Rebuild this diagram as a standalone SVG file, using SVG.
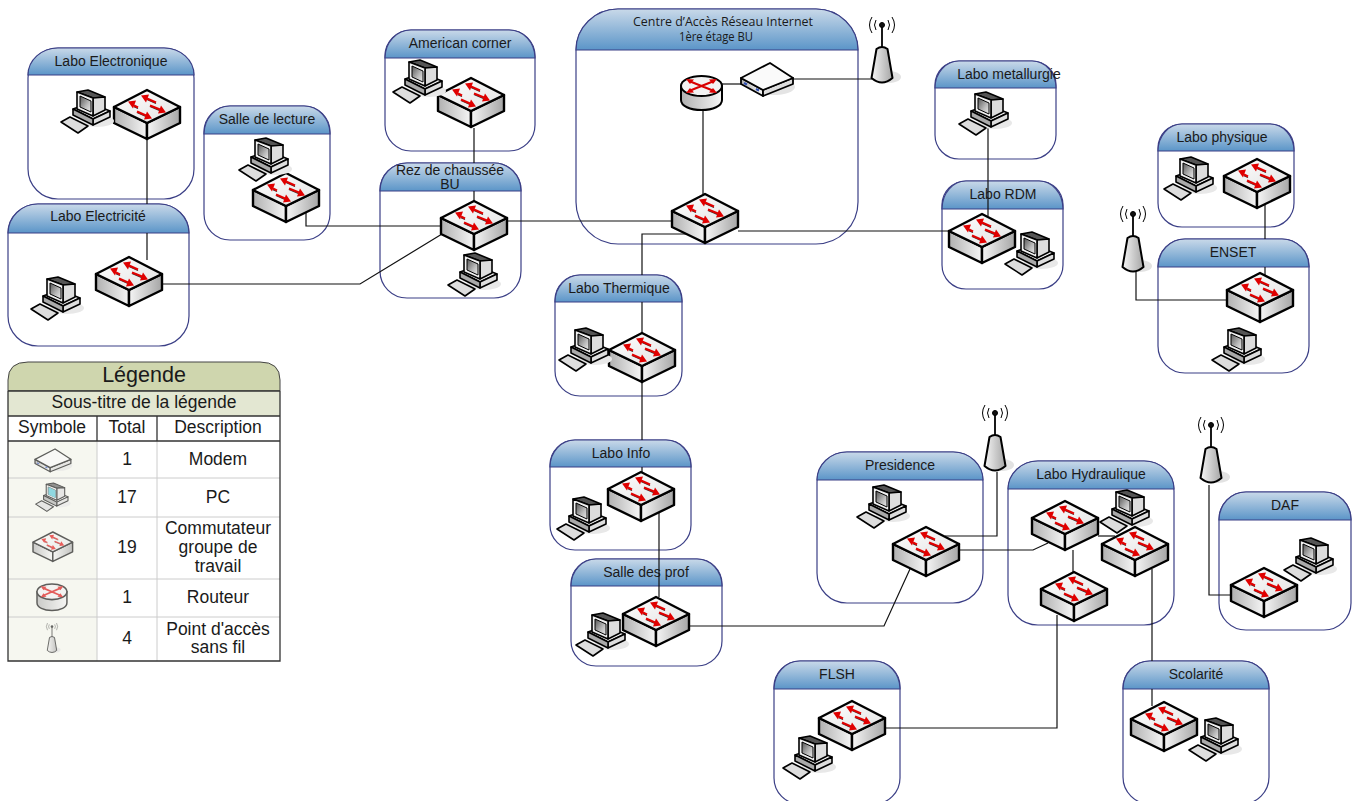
<svg xmlns="http://www.w3.org/2000/svg" width="1357" height="801" viewBox="0 0 1357 801">
<style>
text{font-family:"Liberation Sans",Arial,sans-serif;fill:#1a1a1a;text-anchor:middle}
.box{fill:#fff;stroke:#3b3f86;stroke-width:1.2}
.hd{fill:url(#hdg);stroke:#3b3f86;stroke-width:1.2}
.lbl{font-size:14px}
.cf{font-family:"Open Sans",sans-serif;font-size:12px}
.conn{fill:none;stroke:#111;stroke-width:1.2}
.lt{font-size:17.500px}
.lg{fill:none;stroke:#ccc;stroke-width:1}
.ld{fill:none;stroke:#333;stroke-width:1.300}
</style>
<defs>
<linearGradient id="hdg" x1="0" y1="0" x2="0" y2="1"><stop offset="0" stop-color="#c9d9e9"/><stop offset="1" stop-color="#5b95c8"/></linearGradient>
<linearGradient id="sl" x1="0" y1="0" x2="1" y2="0"><stop offset="0" stop-color="#b0b0b0"/><stop offset="1" stop-color="#f6f6f6"/></linearGradient>
<linearGradient id="sr" x1="0" y1="0" x2="1" y2="0"><stop offset="0" stop-color="#f6f6f6"/><stop offset="1" stop-color="#a5a5a5"/></linearGradient>
<linearGradient id="st" x1="0" y1="0" x2="1" y2="1"><stop offset="0" stop-color="#fff"/><stop offset="1" stop-color="#e2e2e2"/></linearGradient>
<linearGradient id="scr" x1="0" y1="0" x2="1" y2="1"><stop offset="0" stop-color="#555"/><stop offset=".6" stop-color="#bbb"/><stop offset="1" stop-color="#eee"/></linearGradient>
<g id="switch" stroke="#000" stroke-width="2.400" stroke-linejoin="round">
<path d="M0 17V33L33 49V33Z" fill="url(#sl)"/>
<path d="M66 17V33L33 49V33Z" fill="url(#sr)"/>
<path d="M33 0L66 17L33 33L0 17Z" fill="url(#st)"/>
<path d="M42 13.500L33 9.500M24 18.500L20 16.600M36 16.500L46 20.600M23 22.500L32 26.500" stroke="#333" stroke-width="1.300" fill="none"/>
<path d="M42 12.500L33 8.500M24 17.500L20 15.600M36 15.500L46 19.600M23 21.500L32 25.500" stroke="#e00000" stroke-width="2.200" fill="none"/>
<g fill="#e00000" stroke="none">
<path d="M27 5.500L35 4.500L32 12.500Z"/>
<path d="M14 11.500L22 10.500L19 18.500Z"/>
<path d="M52 22.500L44 23.500L47 15.500Z"/>
<path d="M38 28.500L30 29.500L33 21.500Z"/>
</g></g>
<g id="pc" stroke="#000" stroke-width="1.600" stroke-linejoin="round">
<ellipse cx="37" cy="31" rx="17" ry="6" fill="#e8e8e8" stroke="none"/>
<path d="M13 19L30 13L50 21L33 29Z" fill="#eee"/>
<path d="M33 29V35L50 27V21Z" fill="#ddd"/>
<path d="M13 19V25L33 35V29Z" fill="#aaa"/>
<path d="M17 2L28 0L45 7L33 8Z" fill="#555"/>
<path d="M33 8L45 7V20L33 26Z" fill="#ddd"/>
<path d="M17 2L33 8V26L17 19Z" fill="#f0f0f0"/>
<path d="M20 6L31 11V22L20 17Z" fill="url(#scr)" stroke-width="1"/>
<path d="M1 32L10 27L28 36L18 43Z" fill="#ddd"/>
</g>
<g id="antenna" stroke="#000" stroke-linejoin="round">
<ellipse cx="7" cy="60" rx="12" ry="6" fill="#e2e2e2" stroke="none"/>
<path d="M-5.500 32Q0 28 5.500 32L10.500 61Q0 70 -10.500 61Z" fill="url(#sr)" stroke-width="2"/>
<path d="M0 8V30" stroke-width="1.800" fill="none"/>
<circle cx="0" cy="8" r="2.500" fill="#111"/>
<path d="M-6 3Q-9 8 -6 13M6 3Q9 8 6 13M-10 0Q-15 8 -10 16M10 0Q15 8 10 16" fill="none" stroke-width="1"/>
</g>
<g id="router" stroke="#000" stroke-width="2">
<path d="M0 10V24C0 30 9 34 20.500 34S41 30 41 24V10Z" fill="url(#sl)"/>
<ellipse cx="20.500" cy="10" rx="20.500" ry="10" fill="#f2f2f2"/>
<path d="M8 5L33 15M33 5L8 15" fill="none" stroke="#d90000" stroke-width="2.200"/>
<g fill="#d90000" stroke="none">
<path d="M5 3L13 3.500L9 8Z"/><path d="M36 17L28 16.500L32 12Z"/>
<path d="M36 3L28 3.500L32 8Z"/><path d="M5 17L13 16.500L9 12Z"/>
</g></g>
<g id="modem" stroke="#000" stroke-width="1.800" stroke-linejoin="round">
<ellipse cx="32" cy="24" rx="22" ry="8" fill="#e4e4e4" stroke="none"/>
<path d="M0 15V21L22 33V27Z" fill="url(#sl)"/>
<path d="M52 15V21L22 33V27Z" fill="#ddd"/>
<path d="M29 0L52 15L22 27L0 15Z" fill="#fafafa"/>
<path d="M3 20l3 1.500M15 26l3 1.500" stroke="#2f4fb0" stroke-width="2" fill="none"/>
</g>
</defs>

<g id="n-electronique"><rect class="box" x="28" y="48" width="166" height="151" rx="30"/><path class="hd" d="M28 75A30 27 0 0 1 58 48H164A30 27 0 0 1 194 75Z"/><text class="lbl" x="111" y="66">Labo Electronique</text></g>
<g id="n-electricite"><rect class="box" x="8" y="204" width="181" height="142" rx="30"/><path class="hd" d="M8 233A30 29 0 0 1 38 204H159A30 29 0 0 1 189 233Z"/><text class="lbl" x="98" y="221">Labo Electricité</text></g>
<g id="n-lecture"><rect class="box" x="204" y="106" width="126" height="134" rx="26"/><path class="hd" d="M204 134A26 28 0 0 1 230 106H304A26 28 0 0 1 330 134Z"/><text class="lbl" x="267" y="124">Salle de lecture</text></g>
<g id="n-american"><rect class="box" x="385" y="30" width="150" height="121" rx="26"/><path class="hd" d="M385 58A26 28 0 0 1 411 30H509A26 28 0 0 1 535 58Z"/><text class="lbl" x="460" y="48">American corner</text></g>
<g id="n-rez"><rect class="box" x="380" y="163" width="141" height="135" rx="27"/><path class="hd" d="M380 191A27 28 0 0 1 407 163H494A27 28 0 0 1 521 191Z"/><text class="lbl" x="450" y="175">Rez de chaussée</text><text class="lbl" x="450" y="189">BU</text></g>
<g id="n-centre"><rect class="box" x="576" y="9" width="282" height="235" rx="42"/><path class="hd" d="M576 50A42 41 0 0 1 618 9H816A42 41 0 0 1 858 50Z"/><text class="cf" x="723" y="26" textLength="180" lengthAdjust="spacingAndGlyphs">Centre d’Accès Réseau Internet</text><text class="cf" x="716" y="41" textLength="74" lengthAdjust="spacingAndGlyphs">1ère étage BU</text></g>
<g id="n-metallurgie"><rect class="box" x="935" y="61" width="121" height="98" rx="24"/><path class="hd" d="M935 88A24 27 0 0 1 959 61H1032A24 27 0 0 1 1056 88Z"/><text class="lbl" x="1009" y="79">Labo metallurgie</text></g>
<g id="n-rdm"><rect class="box" x="942" y="181" width="121" height="108" rx="24"/><path class="hd" d="M942 209A24 28 0 0 1 966 181H1039A24 28 0 0 1 1063 209Z"/><text class="lbl" x="1003" y="199">Labo RDM</text></g>
<g id="n-physique"><rect class="box" x="1158" y="124" width="136" height="103" rx="24"/><path class="hd" d="M1158 151A24 27 0 0 1 1182 124H1270A24 27 0 0 1 1294 151Z"/><text class="lbl" x="1222" y="142">Labo physique</text></g>
<g id="n-enset"><rect class="box" x="1158" y="239" width="151" height="134" rx="27"/><path class="hd" d="M1158 267A27 28 0 0 1 1185 239H1282A27 28 0 0 1 1309 267Z"/><text class="lbl" x="1233" y="257">ENSET</text></g>
<g id="n-thermique"><rect class="box" x="555" y="275" width="127" height="121" rx="25"/><path class="hd" d="M555 302A25 27 0 0 1 580 275H657A25 27 0 0 1 682 302Z"/><text class="lbl" x="619" y="293">Labo Thermique</text></g>
<g id="n-info"><rect class="box" x="550" y="440" width="141" height="110" rx="25"/><path class="hd" d="M550 467A25 27 0 0 1 575 440H666A25 27 0 0 1 691 467Z"/><text class="lbl" x="621" y="458">Labo Info</text></g>
<g id="n-prof"><rect class="box" x="571" y="559" width="151" height="107" rx="25"/><path class="hd" d="M571 586A25 27 0 0 1 596 559H697A25 27 0 0 1 722 586Z"/><text class="lbl" x="646" y="577">Salle des prof</text></g>
<g id="n-presidence"><rect class="box" x="817" y="452" width="166" height="151" rx="30"/><path class="hd" d="M817 480A30 28 0 0 1 847 452H953A30 28 0 0 1 983 480Z"/><text class="lbl" x="900" y="470">Presidence</text></g>
<g id="n-hydraulique"><rect class="box" x="1008" y="461" width="166" height="164" rx="30"/><path class="hd" d="M1008 489A30 28 0 0 1 1038 461H1144A30 28 0 0 1 1174 489Z"/><text class="lbl" x="1091" y="479">Labo Hydraulique</text></g>
<g id="n-daf"><rect class="box" x="1219" y="492" width="132" height="138" rx="27"/><path class="hd" d="M1219 520A27 28 0 0 1 1246 492H1324A27 28 0 0 1 1351 520Z"/><text class="lbl" x="1285" y="510">DAF</text></g>
<g id="n-flsh"><rect class="box" x="774" y="661" width="126" height="143" rx="26"/><path class="hd" d="M774 689A26 28 0 0 1 800 661H874A26 28 0 0 1 900 689Z"/><text class="lbl" x="837" y="679">FLSH</text></g>
<g id="n-scolarite"><rect class="box" x="1123" y="661" width="146" height="143" rx="27"/><path class="hd" d="M1123 689A27 28 0 0 1 1150 661H1242A27 28 0 0 1 1269 689Z"/><text class="lbl" x="1196" y="679">Scolarité</text></g>

<g id="connectors" class="conn">
<path d="M147 139V204M147 233V260"/>
<path d="M162 284H360L442 234"/>
<path d="M306 212V226H441"/>
<path d="M474 128V163M474 191V204"/>
<path d="M507 221H672"/>
<path d="M703 194V110"/>
<path d="M722 84H741"/>
<path d="M793 79H872"/>
<path d="M690 234H642V275M642 302V335M642 381V440M642 467V474"/>
<path d="M738 231H950"/>
<path d="M659 511V597"/>
<path d="M690 626H884L910 569"/>
<path d="M988 120V216"/>
<path d="M1265 205V239M1265 267V275"/>
<path d="M1136 272V300H1227"/>
<path d="M945 536H997V472"/>
<path d="M958 550H1033L1048 543"/>
<path d="M1098 536H1115"/>
<path d="M1073 550V573"/>
<path d="M1152 569V661M1152 689V706"/>
<path d="M1057 615V728H886"/>
<path d="M1209 485V595H1231"/>
</g>

<g id="icons">
<use href="#switch" x="114" y="90"/><use href="#pc" x="60" y="90"/>
<use href="#switch" x="96" y="257"/><use href="#pc" x="30" y="277"/>
<use href="#switch" x="253" y="173"/><use href="#pc" x="238" y="138"/>
<use href="#switch" x="438" y="78"/><use href="#pc" x="392" y="60"/>
<use href="#switch" x="441" y="201"/><use href="#pc" x="447" y="253"/>
<use href="#switch" x="672" y="194"/>
<use href="#router" x="681" y="76"/><use href="#modem" x="741" y="63"/>
<use href="#antenna" x="882" y="17"/>
<use href="#pc" x="958" y="92"/>
<use href="#switch" x="949" y="214"/><use href="#pc" x="1004" y="232"/>
<use href="#switch" x="1224" y="159"/><use href="#pc" x="1163" y="157"/>
<use href="#antenna" x="1133" y="206"/>
<use href="#switch" x="1227" y="273"/><use href="#pc" x="1211" y="328"/>
<use href="#switch" x="609" y="333"/><use href="#pc" x="558" y="328"/>
<use href="#switch" x="608" y="472"/><use href="#pc" x="556" y="497"/>
<use href="#switch" x="623" y="597"/><use href="#pc" x="575" y="613"/>
<use href="#antenna" x="995" y="405"/>
<use href="#switch" x="893" y="527"/><use href="#pc" x="856" y="485"/>
<use href="#pc" x="1099" y="490"/>
<use href="#switch" x="1032" y="501"/><use href="#switch" x="1102" y="527"/><use href="#switch" x="1041" y="572"/>
<use href="#antenna" x="1211" y="417"/>
<use href="#switch" x="1231" y="568"/><use href="#pc" x="1283" y="538"/>
<use href="#switch" x="819" y="701"/><use href="#pc" x="782" y="736"/>
<use href="#switch" x="1131" y="702"/><use href="#pc" x="1188" y="718"/>
</g>

<g id="legende">
<path d="M8 391V380Q8 362 28 362H260Q280 362 280 380V391Z" fill="#cfd6ae" stroke="#444"/>
<rect x="8" y="391" width="272" height="25" fill="#e3e7d2"/>
<rect x="8" y="416" width="272" height="25" fill="#fff"/>
<rect x="8" y="441" width="89" height="220" fill="#f6f7f0"/>
<rect x="97" y="441" width="183" height="220" fill="#fff"/>
<path class="lg" d="M8 478H280M8 517H280M8 579H280M8 617H280M97 441V661M157 441V661"/>
<path class="ld" d="M8 391H280M8 416H280M8 441H280M97 416V441M157 416V441"/>
<path class="ld" d="M8 391V661H280V391"/>
<text x="144" y="382" style="font-size:21.500px">Légende</text>
<text x="144" y="408" class="lt">Sous-titre de la légende</text>
<text x="52" y="433" class="lt">Symbole</text><text x="127" y="433" class="lt">Total</text><text x="218" y="433" class="lt">Description</text>
<text x="127" y="465" class="lt">1</text><text x="218" y="465" class="lt">Modem</text>
<text x="127" y="503" class="lt">17</text><text x="218" y="503" class="lt">PC</text>
<text x="127" y="553" class="lt">19</text><text x="218" y="534" class="lt">Commutateur</text><text x="218" y="553" class="lt">groupe de</text><text x="218" y="572" class="lt">travail</text>
<text x="127" y="603" class="lt">1</text><text x="218" y="603" class="lt">Routeur</text>
<text x="127" y="644" class="lt">4</text><text x="218" y="635" class="lt">Point d'accès</text><text x="218" y="653" class="lt">sans fil</text>
<g opacity=".62">
<use href="#modem" transform="translate(35 449) scale(.69)"/>
<use href="#pc" transform="translate(35 483) scale(.66)"/>
<use href="#switch" transform="translate(33 532) scale(.6)"/>
<use href="#router" transform="translate(37 584) scale(.73 .78)"/>
<use href="#antenna" transform="translate(52 623) scale(.45)"/>
</g>
<path d="M48.500 487L55.500 490.500V498L48.500 494.500Z" fill="#8fd8e0"/>
</g>
</svg>
